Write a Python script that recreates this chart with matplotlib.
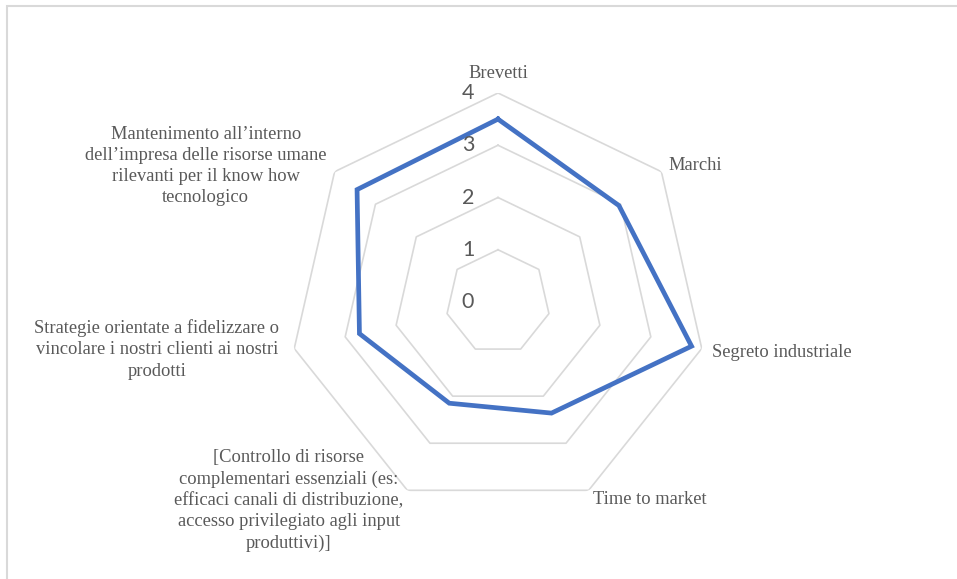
import numpy as np
import matplotlib
matplotlib.use("Agg")
import matplotlib.pyplot as plt
from matplotlib.patches import Rectangle

categories = [
    "Brevetti",
    "Marchi",
    "Segreto industriale",
    "Time to market",
    "[Controllo di risorse\ncomplementari essenziali (es:\nefficaci canali di distribuzione,\naccesso privilegiato agli input\nproduttivi)]",
    "Strategie orientate a fidelizzare o\nvincolare i nostri clienti ai nostri\nprodotti",
    "Mantenimento all\u2019interno\ndell\u2019impresa delle risorse umane\nrilevanti per il know how\ntecnologico",
]
values = [3.5, 2.96, 3.8, 2.36, 2.15, 2.72, 3.45]
levels = [0, 1, 2, 3, 4]

# label offsets (pixels) and horizontal alignment per category
label_offsets = [(0, 20), (7, 6), (10, -3.5), (4, -9), (-4, -10), (-15, -1), (-8, 5.5)]
label_ha = ["center", "left", "left", "left", "right", "right", "right"]

W, H, DPI = 957, 579, 100
fig = plt.figure(figsize=(W / DPI, H / DPI), dpi=DPI)

cx, cy, R = 498, 302, 209
ax = fig.add_axes([(cx - R) / W, (H - cy - R) / H, 2 * R / W, 2 * R / H],
                  projection="polar")
ax.set_theta_zero_location("N")
ax.set_theta_direction(-1)
ax.set_ylim(0, 4)
ax.grid(False)
ax.spines["polar"].set_visible(False)
ax.set_xticks([])
ax.set_yticks([])
ax.patch.set_alpha(0)

n = len(categories)
theta = np.arange(n) * 2 * np.pi / n
theta_closed = np.append(theta, theta[0])

grid_color = "#d9d9d9"
for lv in levels[1:]:
    ax.plot(theta_closed, [lv] * (n + 1), color=grid_color, lw=1.2, zorder=1)

vals_closed = values + values[:1]
ax.plot(theta_closed, vals_closed, color="#4472C4", lw=3.4, zorder=3,
        solid_joinstyle="miter")

text_color = "#595959"
for lv in levels:
    ax.annotate(str(lv), xy=(0, lv), xytext=(-30, 0), textcoords="offset pixels",
                ha="center", va="center", fontsize=15.5, color=text_color,
                family="Lato", annotation_clip=False)

for t, lab, off, ha in zip(theta, categories, label_offsets, label_ha):
    ax.annotate(lab, xy=(t, 4), xytext=off, textcoords="offset pixels",
                ha=ha, va="center", multialignment="center", fontsize=13.3,
                color=text_color, family="Liberation Serif",
                linespacing=1.32, annotation_clip=False)

fig.patches.append(Rectangle((7 / W, -0.1), 1.2, (H - 6) / H + 0.1,
                             transform=fig.transFigure, fill=False,
                             edgecolor="#d9d9d9", lw=1.5))

fig.savefig("out.png", dpi=DPI)
